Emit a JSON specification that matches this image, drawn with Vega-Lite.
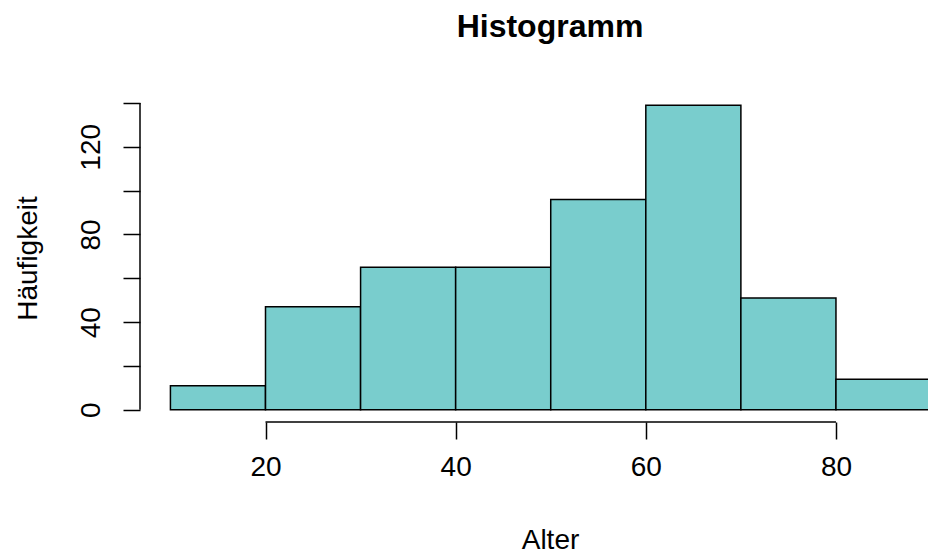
{
  "$schema": "https://vega.github.io/schema/vega-lite/v6.json",
  "autosize": {"type": "none"},
  "width": 788,
  "height": 329,
  "padding": {"left": 140, "top": 93, "right": 0, "bottom": 132},
  "background": "white",
  "config": {
    "view": {"stroke": null},
    "font": "Liberation Sans",
    "axis": {"grid": false}
  },
  "title": {
    "text": "Histogramm",
    "font": "Liberation Sans",
    "fontSize": 32,
    "fontWeight": "bold",
    "color": "black",
    "anchor": "middle",
    "frame": "group",
    "dx": 16,
    "baseline": "alphabetic",
    "offset": 24
  },
  "data": {
    "values": [
      {"bin_start": 10, "bin_end": 20, "count": 11},
      {"bin_start": 20, "bin_end": 30, "count": 47},
      {"bin_start": 30, "bin_end": 40, "count": 65},
      {"bin_start": 40, "bin_end": 50, "count": 65},
      {"bin_start": 50, "bin_end": 60, "count": 96},
      {"bin_start": 60, "bin_end": 70, "count": 139},
      {"bin_start": 70, "bin_end": 80, "count": 51},
      {"bin_start": 80, "bin_end": 90, "count": 14}
    ]
  },
  "layer": [
    {
      "mark": {"type": "bar", "fill": "#79CDCD", "stroke": "black", "strokeWidth": 1.5, "clip": true},
      "encoding": {
        "x": {
          "field": "bin_start",
          "type": "quantitative",
          "scale": {"domain": [6.8, 89.68], "nice": false, "zero": false},
          "axis": {
            "values": [20, 40, 60, 80],
            "domain": false,
            "tickSize": 17,
            "tickWidth": 1.5,
            "tickColor": "black",
            "labelFont": "Liberation Sans",
            "labelFontSize": 28,
            "labelColor": "black",
            "labelPadding": 14,
            "labelFlush": false,
            "title": "Alter",
            "titleFont": "Liberation Sans",
            "titleFontSize": 28,
            "titleFontWeight": "normal",
            "titleColor": "black",
            "titleBaseline": "alphabetic",
            "titleX": 410,
            "titleY": 126
          }
        },
        "x2": {"field": "bin_end"},
        "y": {
          "field": "count",
          "type": "quantitative",
          "scale": {"domain": [-5.56, 144.56], "nice": false, "zero": false},
          "axis": {
            "values": [0, 20, 40, 60, 80, 100, 120, 140],
            "labelExpr": "datum.value % 40 == 0 ? datum.label : ''",
            "domain": false,
            "tickSize": 17,
            "tickWidth": 1.5,
            "tickColor": "black",
            "labelFont": "Liberation Sans",
            "labelFontSize": 28,
            "labelColor": "black",
            "labelAngle": -90,
            "labelAlign": "center",
            "labelBaseline": "alphabetic",
            "labelPadding": 24,
            "labelFlush": false,
            "title": "Häufigkeit",
            "titleFont": "Liberation Sans",
            "titleFontSize": 28,
            "titleFontWeight": "normal",
            "titleColor": "black",
            "titleAngle": -90,
            "titleAlign": "center",
            "titleBaseline": "alphabetic",
            "titleX": -104,
            "titleY": 165
          }
        },
        "y2": {"datum": 0}
      }
    },
    {
      "data": {"values": [{}]},
      "mark": {"type": "rule", "color": "black", "strokeWidth": 1.5},
      "encoding": {
        "x": {"datum": 6.8, "type": "quantitative"},
        "y": {"datum": 0, "type": "quantitative"},
        "y2": {"datum": 140}
      }
    },
    {
      "data": {"values": [{}]},
      "mark": {"type": "rule", "color": "black", "strokeWidth": 1.5},
      "encoding": {
        "x": {"datum": 20, "type": "quantitative"},
        "x2": {"datum": 80},
        "y": {"datum": -5.56, "type": "quantitative"}
      }
    }
  ]
}
